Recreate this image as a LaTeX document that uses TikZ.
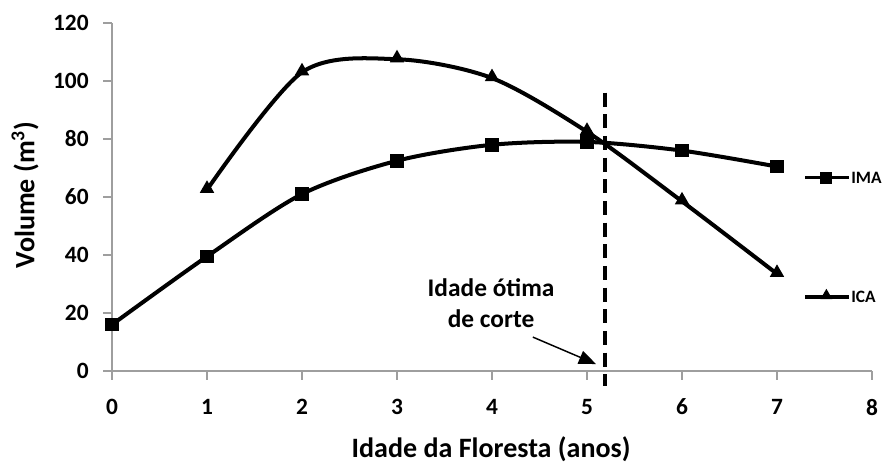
\documentclass[tikz,border=0pt]{standalone}
\usepackage{fontspec}
\setmainfont{Carlito}
\usetikzlibrary{shapes.geometric,arrows.meta}
\tikzset{
  axisline/.style={draw=black!38, line width=0.9pt},
  curve/.style={line width=3pt, line join=round},
  imamark/.style={rectangle, fill=black, inner sep=0pt, minimum size=0.36cm},
  icamark/.style={regular polygon, regular polygon sides=3, fill=black, inner sep=0pt, minimum size=0.44cm},
  ticklbl/.style={font=\fontsize{17.5}{21}\selectfont\bfseries, inner sep=0pt},
  axislbl/.style={font=\fontsize{21}{25}\selectfont\bfseries, inner sep=0pt},
  notelbl/.style={font=\fontsize{19}{23}\selectfont\bfseries, align=center, inner sep=0pt},
  keylbl/.style={font=\fontsize{13}{15}\selectfont\bfseries, inner sep=0pt, anchor=west}
}
\begin{document}
\begin{tikzpicture}[x=2.5cm, y=0.07632cm]
			%%%%% FRAME %%%%%
			\useasboundingbox (-1.179,-33.1) rectangle (8.137,127.93);
			
			% axes
			\draw[axisline] (0,0) -- (0,120);
			\draw[axisline] (0,0) -- (8,0);
			\foreach \v in {0,20,...,120}
				\draw[axisline] (0,\v) -- ++(-0.23cm,0) node[ticklbl, left, xshift=-0.37cm] (ytick\v) {\v};
			\foreach \x in {0,...,8}
				\draw[axisline] (\x,0) -- ++(0,-0.24cm) node[ticklbl, below, yshift=-0.48cm] (xtick\x) {\x};
			
			\node[axislbl, rotate=90] (ylabel) at (-0.916,60.7) {Volume (m\textsuperscript{3})};
			\node[axislbl, anchor=base] (xlabel) at (3.99,-29.7) {Idade da Floresta (anos)};
			
			%%%%% DATA %%%%%
			\foreach \x/\v in {0/16,1/39.5,2/61,3/72.5,4/78,5/79,6/76,7/70.5}
				\coordinate (ima\x) at (\x,\v);
			\foreach \x/\v in {1/62.5,2/103,3/107.5,4/101,5/82.5,6/58.5,7/33.5}
				\coordinate (ica\x) at (\x,\v);
			
			\draw[curve] plot[smooth, tension=0.5] coordinates {(ima0) (ima1) (ima2) (ima3) (ima4) (ima5) (ima6) (ima7)};
			\draw[curve] plot[smooth, tension=0.5] coordinates {(ica1) (ica2) (ica3) (ica4) (ica5) (ica6) (ica7)};
			
			\foreach \x in {0,...,7}
				\node[imamark] (imabox\x) at (ima\x) {};
			\foreach \x in {1,...,7}
				\node[icamark, yshift=0.03cm] (icatri\x) at (ica\x) {};
			
			%%%%% CUT AGE %%%%%
			\coordinate (cuttop) at (5.19,96);
			\coordinate (cutbot) at (5.19,-5);
			\draw[line width=2.8pt, dash pattern=on 0.37cm off 0.2cm] (cuttop) -- (cutbot);
			
			\node[notelbl] (optima) at (3.99,23.4) {Idade ótima\\de corte};
			\coordinate (arrowtail) at (4.43,11.7);
			\coordinate (arrowtip) at (5.095,2.4);
			\draw[line width=1.1pt, -{Triangle[length=0.45cm, width=0.36cm]}] (arrowtail) -- (arrowtip);
			
			%%%%% LEGEND %%%%%
			\coordinate (imakeyL) at (7.30,66.6);
			\coordinate (imakeyR) at (7.76,66.6);
			\draw[line width=2.4pt] (imakeyL) -- (imakeyR);
			\node[imamark, minimum size=0.32cm] (imakey) at (7.52,66.6) {};
			\node[keylbl] (imatext) at (7.78,66.6) {IMA};
			
			\coordinate (icakeyL) at (7.30,25.5);
			\coordinate (icakeyR) at (7.76,25.5);
			\draw[line width=2.4pt] (icakeyL) -- (icakeyR);
			\node[icamark, minimum size=0.36cm] (icakey) at (7.52,26.0) {};
			\node[keylbl] (icatext) at (7.78,25.5) {ICA};
			
			%%%%% END %%%%%
\end{tikzpicture}
\end{document}
